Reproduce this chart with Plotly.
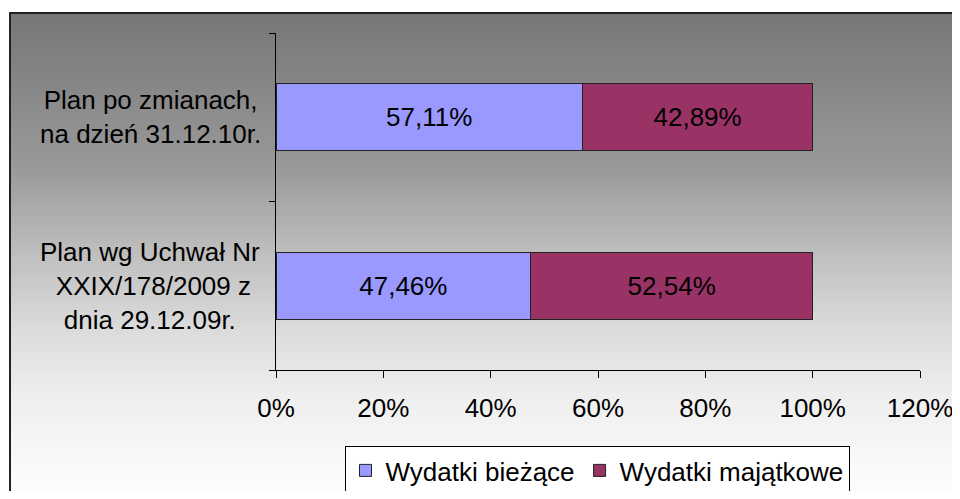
import plotly.graph_objects as go

categories = [
    "Plan wg Uchwał Nr XXIX/178/2009 z dnia 29.12.09r.",
    "Plan po zmianach, na dzień 31.12.10r.",
]
category_labels = [
    "Plan wg Uchwał Nr<br> XXIX/178/2009 z<br>dnia 29.12.09r.",
    "Plan po zmianach,<br>na dzień 31.12.10r.",
]
series_names = ["Wydatki bieżące", "Wydatki majątkowe"]
biezace = [47.46, 57.11]
majatkowe = [52.54, 42.89]
x_ticks = [0, 20, 40, 60, 80, 100, 120]
x_tick_text = ["0%", "20%", "40%", "60%", "80%", "100%", "120%"]

OFF = 8  # page body margin offset
W, H = 960 - 2 * OFF, 499 - 2 * OFF
PL, PR, PT, PB = 276, 920, 33, 370
L, R, T, B = PL - OFF, W - (PR - OFF), PT - OFF, H - (PB - OFF)
PW, PH = W - L - R, H - T - B
FONT = "Liberation Sans, Arial, sans-serif"
FS = 26


def px_x(x):
    return (x - OFF - L) / PW


def px_y(y):
    return (H - B - (y - OFF)) / PH


fig = go.Figure()
colors = ["#9999FF", "#993366"]
for name, vals, col in zip(series_names, [biezace, majatkowe], colors):
    fig.add_trace(go.Bar(
        y=categories, x=vals, name=name, orientation="h",
        marker=dict(color=col, line=dict(color="#222222", width=1)),
        texttemplate="%{x:.2f}%", textposition="inside",
        insidetextanchor="middle",
        textfont=dict(family=FONT, size=FS, color="black"),
    ))

shapes = []
stops = [(12, 0x76), (170, 0x9a), (250, 0xbd), (330, 0xdc), (400, 0xef), (470, 0xfa), (520, 0xff)]


def gray_at(y):
    for (y0, c0), (y1, c1) in zip(stops[:-1], stops[1:]):
        if y0 <= y <= y1:
            return c0 + (c1 - c0) * (y - y0) / (y1 - y0)
    return stops[-1][1]


step = 3
y = 12
while y < 515:
    g = int(round(gray_at(y + step / 2)))
    shapes.append(dict(
        type="rect", xref="paper", yref="paper", layer="below",
        x0=px_x(9), x1=px_x(990), y0=px_y(y + step + 1), y1=px_y(y),
        fillcolor=f"rgb({g},{g},{g})", line=dict(width=0),
    ))
    y += step
shapes.append(dict(
    type="rect", xref="paper", yref="paper", layer="below",
    x0=px_x(10), x1=px_x(1000), y0=px_y(540), y1=px_y(13),
    fillcolor="rgba(0,0,0,0)", line=dict(color="#222222", width=2),
))

annotations = []
for cat, lab in zip(categories, category_labels):
    annotations.append(dict(
        x=px_x(150), xref="paper", y=cat, yref="y", text=lab,
        showarrow=False, xanchor="center", yanchor="middle", align="center",
        font=dict(family=FONT, size=FS, color="black"),
    ))

fig.update_layout(
    width=W, height=H,
    margin=dict(l=L, r=R, t=T, b=B, pad=0, autoexpand=False),
    barmode="stack", bargap=0.6,
    separators=", ",
    paper_bgcolor="white", plot_bgcolor="rgba(0,0,0,0)",
    font=dict(family=FONT, size=FS, color="black"),
    shapes=shapes, annotations=annotations,
    showlegend=True,
    legend=dict(
        orientation="h", traceorder="normal",
        x=px_x(597), xanchor="center", y=px_y(446), yanchor="top",
        bgcolor="white", bordercolor="black", borderwidth=1,
        font=dict(family=FONT, size=FS, color="black"),
        itemwidth=30, tracegroupgap=0,
    ),
    xaxis=dict(
        range=[0, 120], tickmode="array", tickvals=x_ticks, ticktext=x_tick_text,
        showline=True, linecolor="black", linewidth=1,
        ticks="outside", ticklen=7, tickcolor="black",
        showgrid=False, zeroline=False, ticklabelstandoff=8,
        ticklabeloverflow="allow",
        tickfont=dict(family=FONT, size=FS, color="black"),
        fixedrange=True,
    ),
    yaxis=dict(
        type="category", categoryorder="array", categoryarray=categories,
        tickson="boundaries", showticklabels=False,
        showline=True, linecolor="black", linewidth=1,
        ticks="outside", ticklen=6, tickcolor="black",
        showgrid=False, zeroline=False, fixedrange=True,
    ),
)

fig.write_html("out.html")
